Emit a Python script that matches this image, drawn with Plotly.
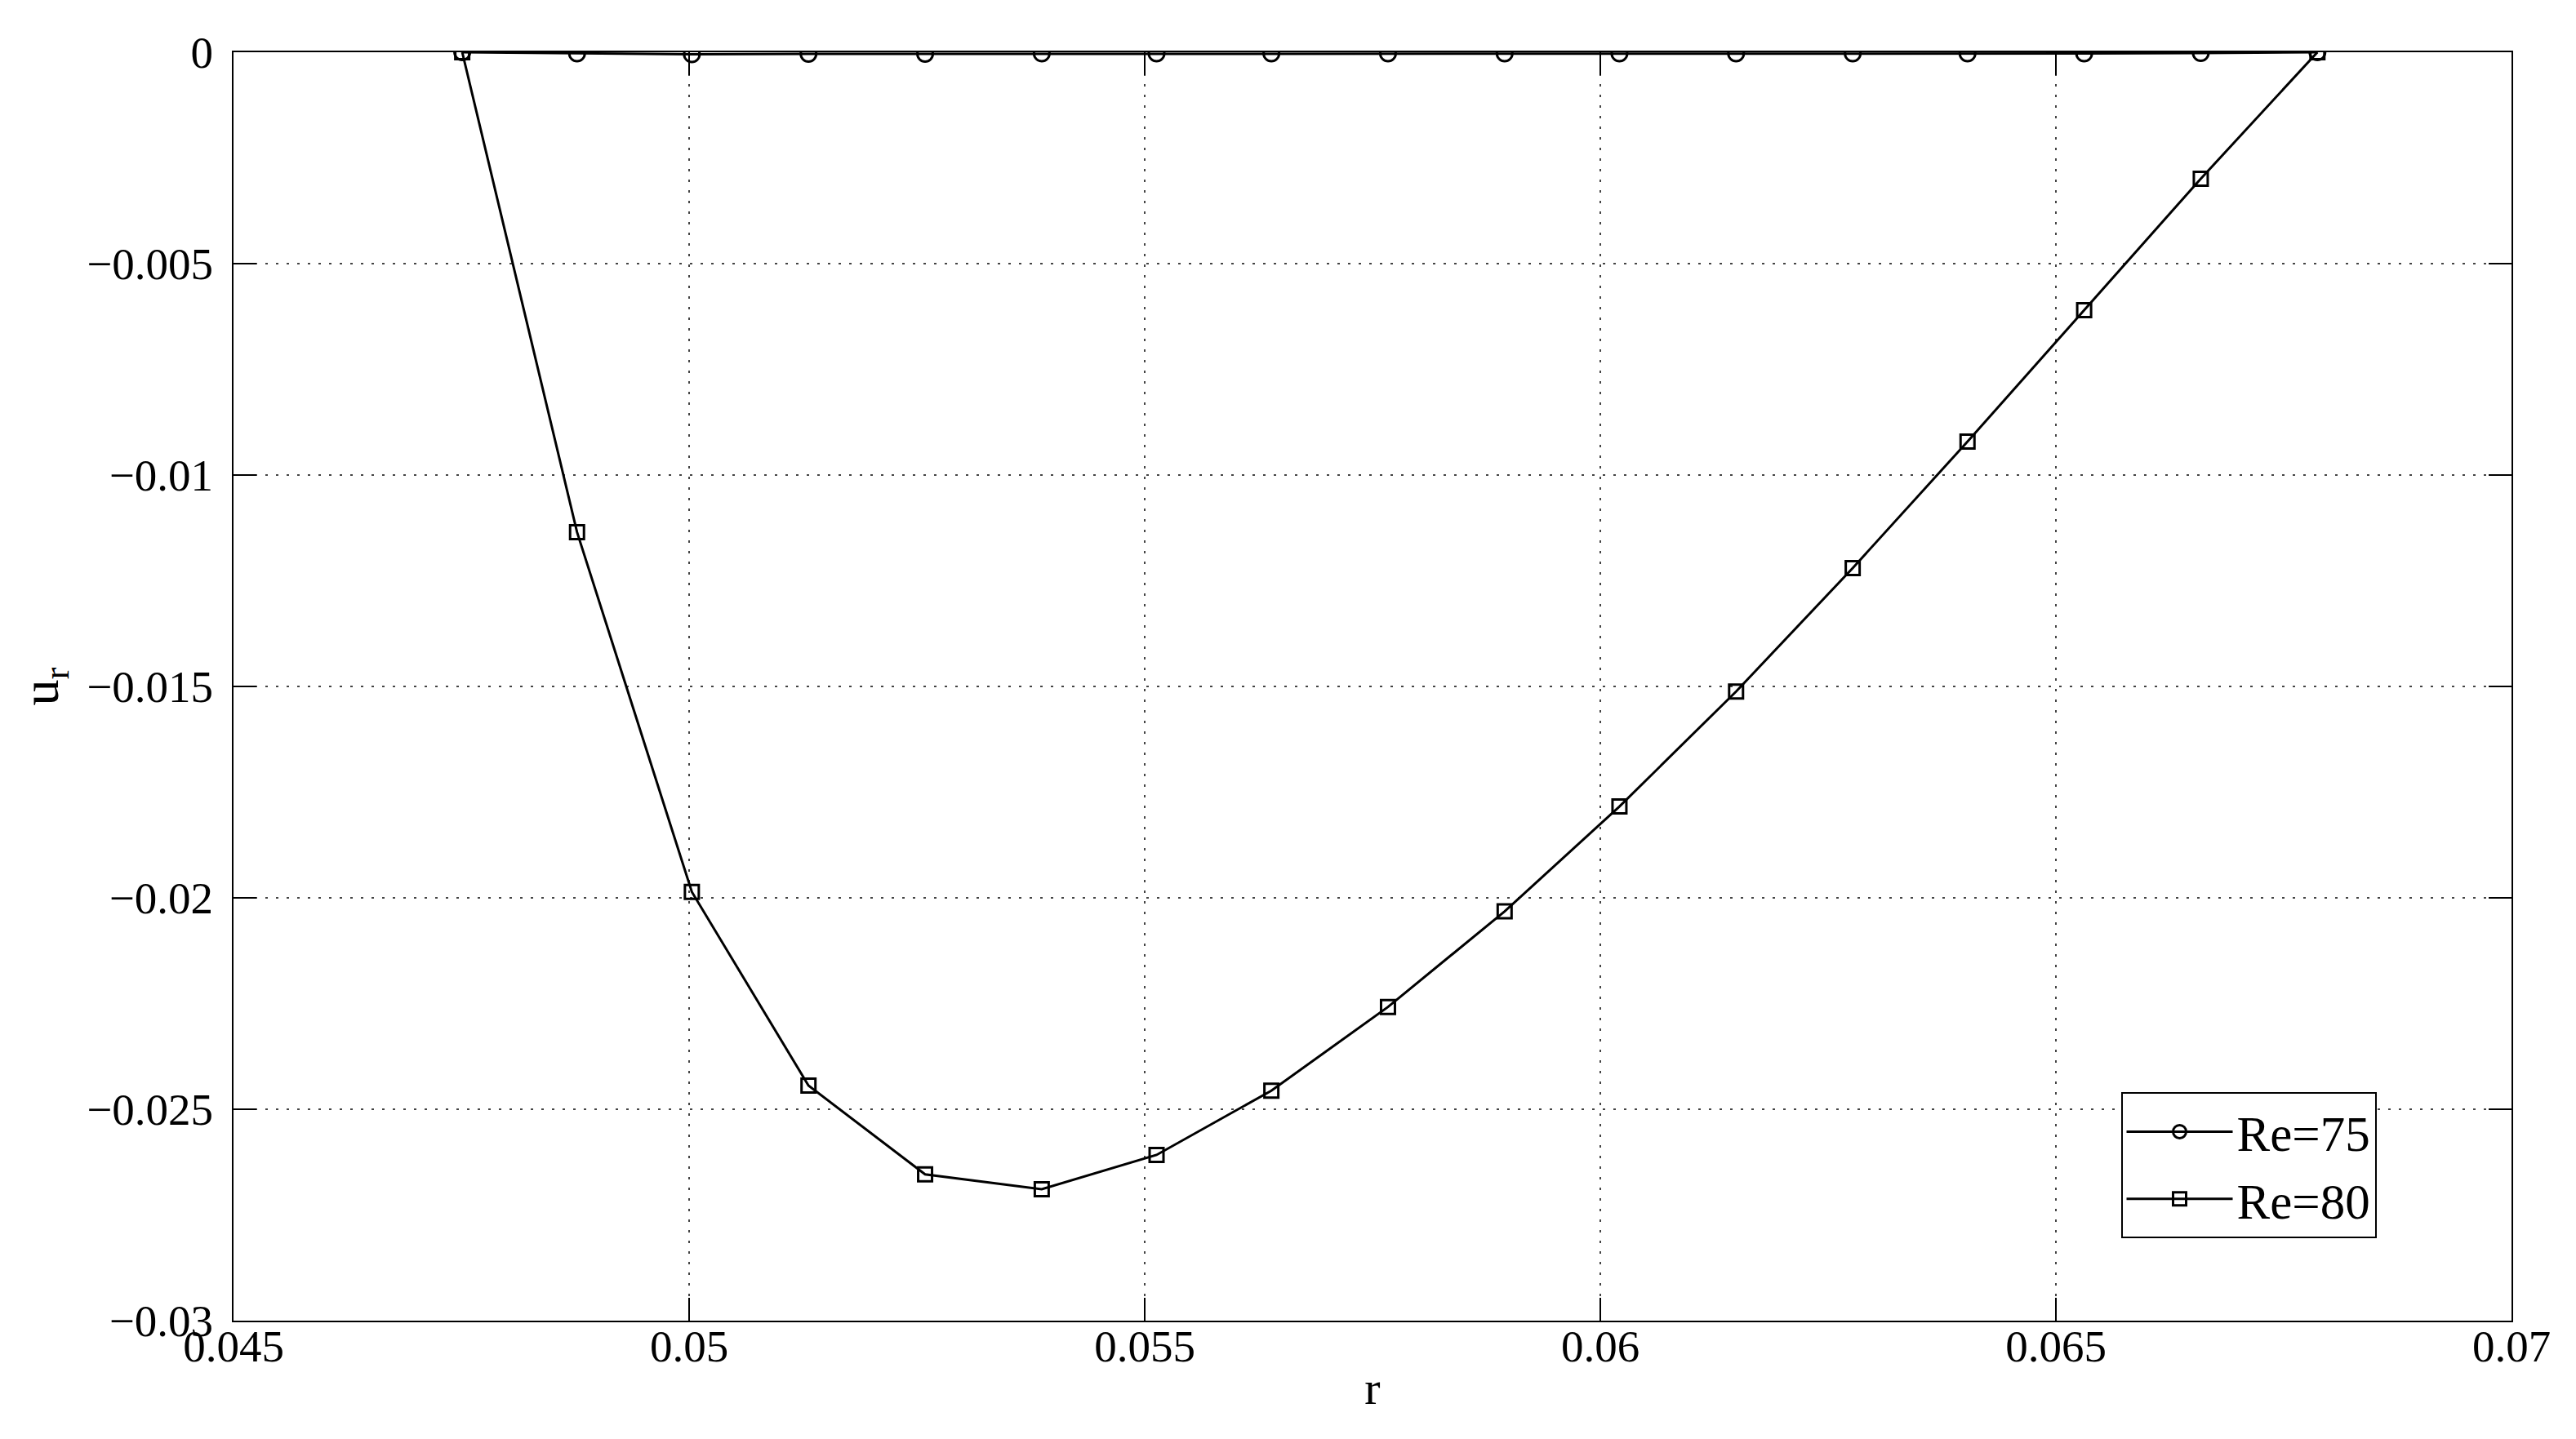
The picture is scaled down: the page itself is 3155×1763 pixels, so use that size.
import plotly.graph_objects as go

r = [0.04751, 0.04877, 0.05003, 0.05131, 0.05259, 0.05387, 0.05513, 0.05639, 0.05767,
     0.05895, 0.06021, 0.06149, 0.06277, 0.06403, 0.06531, 0.06659, 0.06787]
ur_re75 = [0.0, -0.00003, -0.00005, -0.00004, -0.00004, -0.00003, -0.00003, -0.00003, -0.00003,
           -0.00003, -0.00003, -0.00003, -0.00003, -0.00003, -0.00003, -0.00002, 0.0]
ur_re80 = [0.0, -0.01135, -0.01986, -0.02444, -0.02654, -0.02689, -0.02608, -0.02456, -0.02258,
           -0.02032, -0.01784, -0.01512, -0.0122, -0.00921, -0.0061, -0.00299, 0.0]

x_ticks = [0.045, 0.05, 0.055, 0.06, 0.065, 0.07]
y_ticks = [0, -0.005, -0.01, -0.015, -0.02, -0.025, -0.03]

font = 'Liberation Serif'

fig = go.Figure()
fig.add_trace(go.Scatter(x=r, y=ur_re75, name='Re=75', mode='lines+markers',
                         line=dict(color='black', width=3),
                         marker=dict(symbol='circle-open', size=19, color='black', line=dict(width=3))))
fig.add_trace(go.Scatter(x=r, y=ur_re80, name='Re=80', mode='lines+markers',
                         line=dict(color='black', width=3),
                         marker=dict(symbol='square-open', size=17, color='black', line=dict(width=3))))

axis_style = dict(showline=True, linecolor='black', linewidth=2, mirror='ticks',
                  ticks='inside', ticklen=28, tickwidth=2, tickcolor='black',
                  showgrid=True, gridcolor='#444444', griddash='3px,10px', gridwidth=2,
                  zeroline=False, tickfont=dict(family=font, size=55, color='black'))

fig.update_xaxes(range=[0.045, 0.07], tickvals=x_ticks, ticktext=[str(v) for v in x_ticks],
                 ticklabelstandoff=-18,
                 title=dict(text='r', font=dict(family=font, size=58, color='black'), standoff=0),
                 **axis_style)
fig.update_yaxes(range=[-0.03, 0], tickvals=y_ticks,
                 ticktext=['0'] + ['\u2212' + str(-v) for v in y_ticks[1:]],
                 ticklabelstandoff=12,
                 title=dict(text='u<sub>r</sub>', font=dict(family=font, size=64, color='black'),
                            standoff=14),
                 **axis_style)

fig.update_layout(
    width=3155, height=1763,
    margin=dict(l=278, r=87, t=56, b=153),
    plot_bgcolor='white', paper_bgcolor='white',
    font=dict(family=font, color='black'),
    showlegend=True,
    legend=dict(x=0.8285, y=0.18, xanchor='left', yanchor='top',
                bordercolor='black', borderwidth=2, bgcolor='white',
                font=dict(family=font, size=61, color='black'),
                itemwidth=130, tracegroupgap=0),
)

fig.write_html("out.html")
